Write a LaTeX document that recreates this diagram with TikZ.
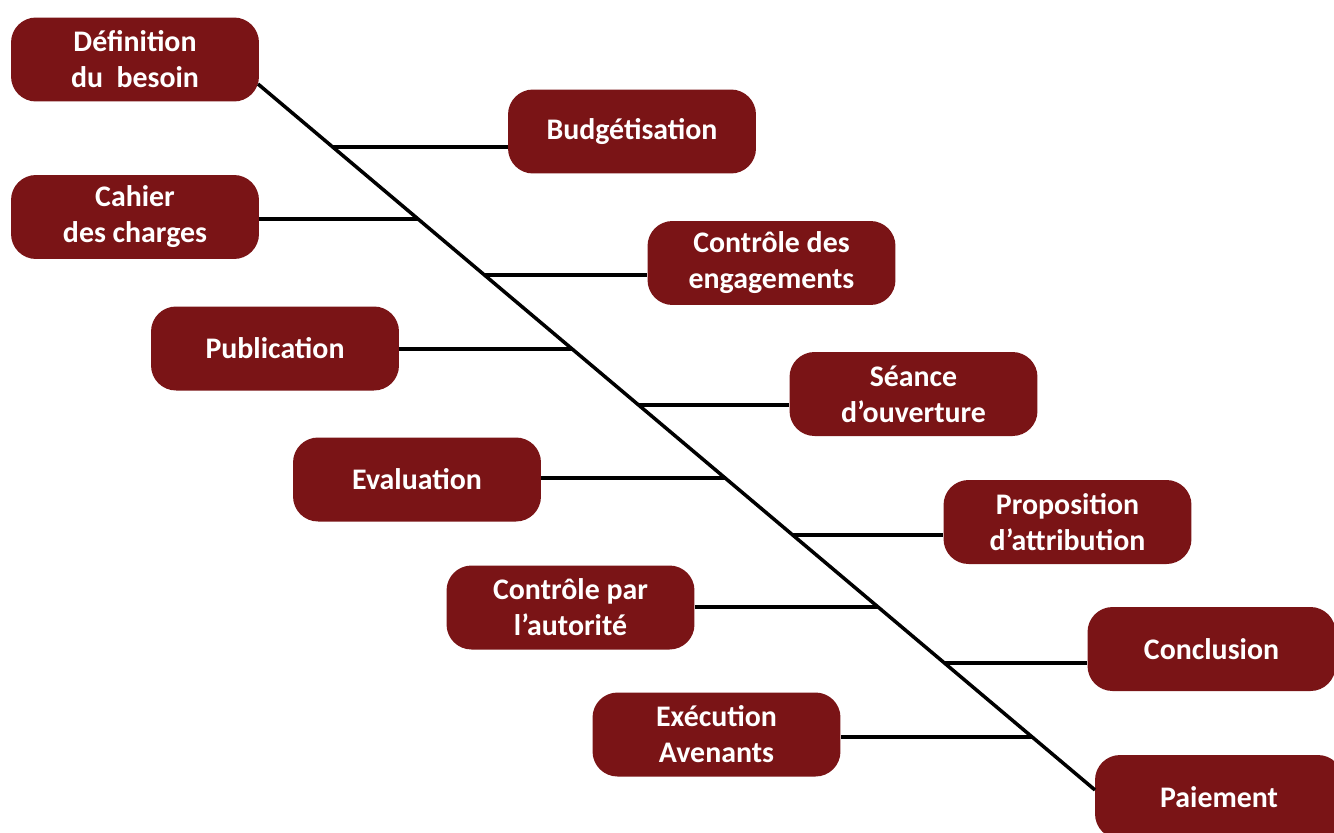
\documentclass[tikz,border=0pt]{standalone}
\usepackage{fontspec}
\setmainfont{Carlito}
\definecolor{bordeaux}{RGB}{122,20,22}

\begin{document}
\begin{tikzpicture}[x=0.02cm,y=-0.02cm]

     \tikzstyle{etape}=[rectangle,rounded corners=0.5cm,fill=bordeaux,text=white,
        minimum width=4.96cm,minimum height=1.68cm,align=center,
        font=\fontsize{17}{20.5}\selectfont\bfseries]
     \tikzstyle{ligne}=[line width=2pt,black]

      \useasboundingbox (0,0) rectangle (1334,832);

      \begin{scope}
         \node[etape] (def)  at (135,59.5)   {Définition\\du~ besoin};
         \node[etape] (bud)  at (632,131.5)  {Budgétisation};
         \node[etape] (cah)  at (135,217)    {Cahier\\des charges};
         \node[etape] (ceng) at (771.5,263)  {Contrôle des\\engagements};
         \node[etape] (pub)  at (275,348.5)  {Publication};
         \node[etape] (sea)  at (913.5,394)  {Séance\\d’ouverture};
         \node[etape] (eva)  at (417,479.5)  {Evaluation};
         \node[etape] (pro)  at (1067.5,522) {Proposition\\d’attribution};
         \node[etape] (cpa)  at (570.5,607.5) {Contrôle par\\l’autorité};
         \node[etape] (con)  at (1211.5,649) {Conclusion};
         \node[etape] (exe)  at (716.5,734.5) {Exécution\\Avenants};
         \node[etape] (pai)  at (1219,797)   {Paiement};

         % the spine, from the first step down to the last one
         \coordinate (s0) at (258,84);
         \coordinate (s1) at (1095,790);
         \draw[ligne] (s0) -- (s1)
            coordinate[pos=0.0892] (j1)
            coordinate[pos=0.1912] (j2)
            coordinate[pos=0.2705] (j3)
            coordinate[pos=0.3754] (j4)
            coordinate[pos=0.4547] (j5)
            coordinate[pos=0.5581] (j6)
            coordinate[pos=0.6388] (j7)
            coordinate[pos=0.7408] (j8)
            coordinate[pos=0.8201] (j9)
            coordinate[pos=0.9249] (j10);

         \draw[ligne] (j1) -- (bud.west |- j1);
         \draw[ligne] (cah.east |- j2) -- (j2);
         \draw[ligne] (j3) -- (ceng.west |- j3);
         \draw[ligne] (pub.east |- j4) -- (j4);
         \draw[ligne] (j5) -- (sea.west |- j5);
         \draw[ligne] (eva.east |- j6) -- (j6);
         \draw[ligne] (j7) -- (pro.west |- j7);
         \draw[ligne] (cpa.east |- j8) -- (j8);
         \draw[ligne] (j9) -- (con.west |- j9);
         \draw[ligne] (exe.east |- j10) -- (j10);

      \end{scope}
  \end{tikzpicture}
\end{document}
